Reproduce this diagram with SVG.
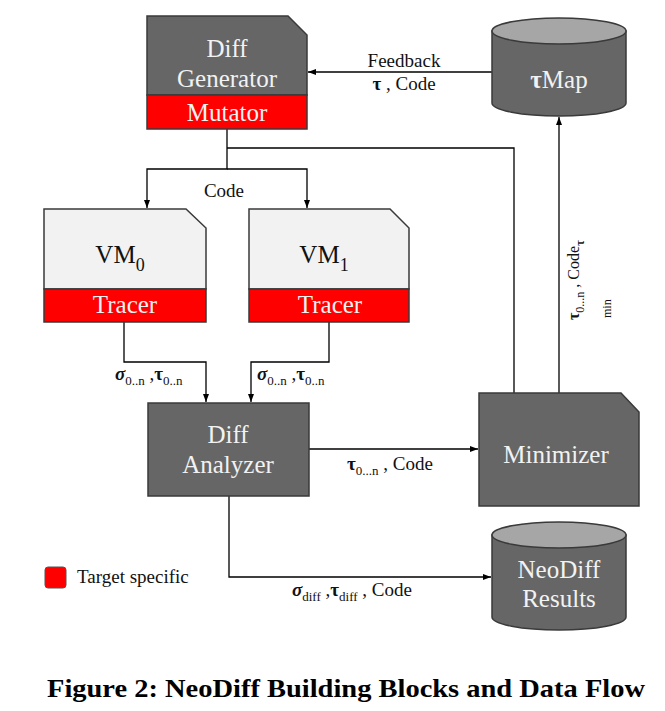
<svg xmlns="http://www.w3.org/2000/svg" width="665" height="711" viewBox="0 0 665 711">
<defs>
<style>
.dark{fill:#666666;stroke:#3a3a3a;stroke-width:1.5}
.light{fill:#f2f2f2;stroke:#3a3a3a;stroke-width:1.5}
.red{fill:#ff0000;stroke:#3a3a3a;stroke-width:1.5}
.cap{fill:#a6a6a6;stroke:#3a3a3a;stroke-width:1.5}
.nt{font-family:"Liberation Serif","Times New Roman","DejaVu Serif",serif;font-size:25px;text-anchor:middle}
.w{fill:#f2f2f2}
.k{fill:#111}
.lbl{font-family:"Liberation Serif","Times New Roman","DejaVu Serif",serif;font-size:19px;fill:#111}
.sub{font-size:13px}
.b{font-weight:bold}
.i{font-style:italic}
.conn path{fill:none;stroke:#000;stroke-width:1.3}
</style>
<marker id="arr" viewBox="0 0 8 6" refX="8" refY="3" markerWidth="8" markerHeight="6" markerUnits="userSpaceOnUse" orient="auto">
<path d="M0,0 L8,3 L0,6 z" fill="#000"/>
</marker>
</defs>
<rect width="665" height="711" fill="#ffffff"/>

<g class="conn">
<path d="M492,72 H308" marker-end="url(#arr)"/>
<path d="M227,129 V169 H147 V208" marker-end="url(#arr)"/>
<path d="M227,169 H307 V208" marker-end="url(#arr)"/>
<path d="M227,148 H514 V393"/>
<path d="M124,322 V362 H206 V402" marker-end="url(#arr)"/>
<path d="M329,322 V362 H251 V402" marker-end="url(#arr)"/>
<path d="M309,449 H478" marker-end="url(#arr)"/>
<path d="M559,393 V117" marker-end="url(#arr)"/>
<path d="M229,496 V577 H491" marker-end="url(#arr)"/>
</g>

<g id="labels">
<text class="lbl" x="404" y="67" text-anchor="middle">Feedback</text>
<text class="lbl" x="404" y="90" text-anchor="middle"><tspan class="b">τ</tspan> , Code</text>
<text class="lbl" x="224" y="197" text-anchor="middle">Code</text>
<text class="lbl" x="115" y="380"><tspan class="b i">σ</tspan><tspan class="sub" dy="5">0..n</tspan><tspan dy="-5"> ,</tspan><tspan class="b">τ</tspan><tspan class="sub" dy="5">0..n</tspan></text>
<text class="lbl" x="257" y="380"><tspan class="b i">σ</tspan><tspan class="sub" dy="5">0..n</tspan><tspan dy="-5"> ,</tspan><tspan class="b">τ</tspan><tspan class="sub" dy="5">0..n</tspan></text>
<text class="lbl" x="347" y="470"><tspan class="b">τ</tspan><tspan class="sub" dy="5">0...n</tspan><tspan dy="-5"> , Code</tspan></text>
<text class="lbl" x="292" y="596"><tspan class="b i">σ</tspan><tspan class="sub" dy="5">diff</tspan><tspan dy="-5"> ,</tspan><tspan class="b">τ</tspan><tspan class="sub" dy="5">diff</tspan><tspan dy="-5"> , Code</tspan></text>
<text class="lbl" transform="translate(579,320) rotate(-90)" style="font-size:16px"><tspan class="b">τ</tspan><tspan dy="5" style="font-size:12px">0...n</tspan><tspan dy="-5"> , Code</tspan><tspan class="b" dy="5" style="font-size:12px">τ</tspan></text>
<text class="lbl" transform="translate(611,318) rotate(-90)" style="font-size:12px">min</text>
</g>

<g id="diff-generator">
<path class="dark" d="M147,16 H288 L307,35 V95 H147 Z"/>
<rect class="red" x="147" y="95" width="160" height="34"/>
<text class="nt w" x="227" y="57">Diff</text>
<text class="nt w" x="227" y="87">Generator</text>
<text class="nt w" x="227" y="121">Mutator</text>
</g>

<g id="tau-map">
<path class="dark" d="M492,31 V103 A67,13 0 0 0 626,103 V31 Z"/>
<ellipse class="cap" cx="559" cy="31" rx="67" ry="13"/>
<text class="nt w" x="559" y="88"><tspan class="b">τ</tspan>Map</text>
</g>

<g id="vm0">
<path class="light" d="M44,209 H186 L206,228 V289 H44 Z"/>
<rect class="red" x="44" y="289" width="162" height="33"/>
<text class="nt k" x="120" y="263">VM<tspan dy="8" style="font-size:18px">0</tspan></text>
<text class="nt w" x="125" y="313">Tracer</text>
</g>

<g id="vm1">
<path class="light" d="M249,209 H390 L409,228 V289 H249 Z"/>
<rect class="red" x="249" y="289" width="160" height="33"/>
<text class="nt k" x="324" y="263">VM<tspan dy="8" style="font-size:18px">1</tspan></text>
<text class="nt w" x="330" y="313">Tracer</text>
</g>

<g id="diff-analyzer">
<rect class="dark" x="148" y="403" width="161" height="93"/>
<text class="nt w" x="228" y="443">Diff</text>
<text class="nt w" x="228" y="473">Analyzer</text>
</g>

<g id="minimizer">
<path class="dark" d="M479,393 H621 L639,412 V506 H479 Z"/>
<text class="nt w" x="556" y="463">Minimizer</text>
</g>

<g id="neodiff-results">
<path class="dark" d="M492,535 V617 A67,13 0 0 0 626,617 V535 Z"/>
<ellipse class="cap" cx="559" cy="535" rx="67" ry="13"/>
<text class="nt w" x="559" y="578">NeoDiff</text>
<text class="nt w" x="559" y="607">Results</text>
</g>

<g id="legend">
<rect x="45" y="567" width="21" height="21" rx="3" fill="#ff0000" stroke="#555" stroke-width="1"/>
<text class="lbl" x="77" y="583">Target specific</text>
</g>

<text x="47" y="697" font-family="'Liberation Serif','Times New Roman','DejaVu Serif',serif" font-size="26" font-weight="bold" fill="#000" textLength="598" lengthAdjust="spacingAndGlyphs">Figure 2: NeoDiff Building Blocks and Data Flow</text>
</svg>
